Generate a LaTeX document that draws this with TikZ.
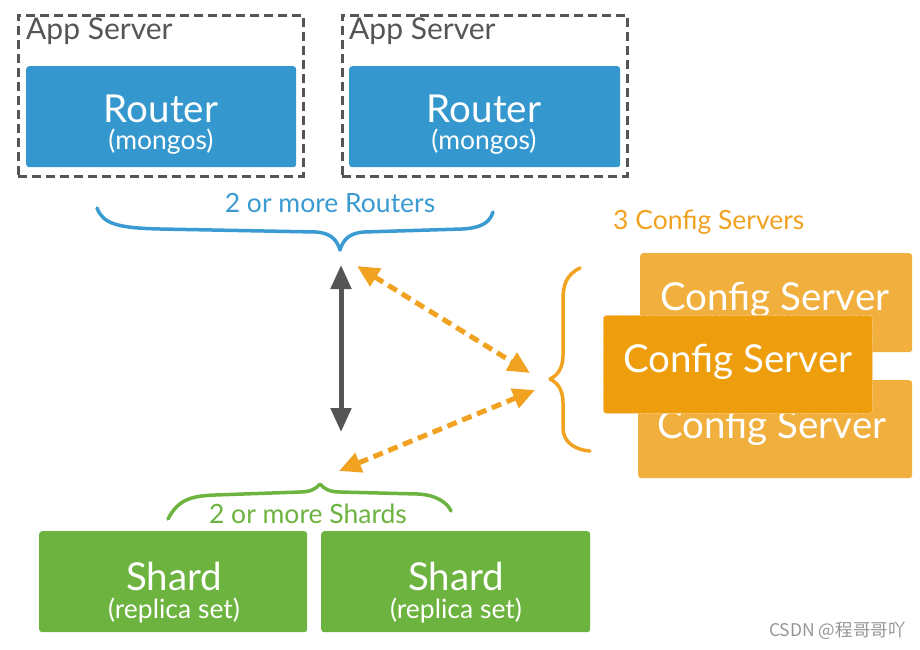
\documentclass[tikz,border=0pt]{standalone}
\usepackage{fontspec}
\setmainfont{Lato}
\newfontfamily\cjkfont{Noto Sans CJK SC}
\usetikzlibrary{arrows.meta}
\definecolor{rblue}{RGB}{52,152,206}
\definecolor{tblue}{RGB}{58,154,210}
\definecolor{cfront}{RGB}{238,158,12}
\definecolor{cback}{RGB}{241,175,62}
\definecolor{tor}{RGB}{240,162,32}
\definecolor{sgreen}{RGB}{108,179,63}
\definecolor{dgray}{RGB}{85,85,85}
\definecolor{wm}{RGB}{150,150,150}
\begin{document}
\begin{tikzpicture}[x=1pt,y=-1pt,
  box/.style={rounded corners=3pt, inner sep=0pt, anchor=north west},
  appbox/.style={draw=dgray, dash pattern=on 9pt off 5pt, line width=2.5pt, inner sep=0pt, anchor=north west, minimum width=285pt, minimum height=161pt},
  big/.style={font=\fontsize{38.5}{42}\selectfont, text=white, inner sep=0pt, anchor=base, text depth=0pt},
  small/.style={font=\fontsize{26.5}{30}\selectfont, text=white, inner sep=0pt, anchor=base, text height=13pt},
  cfg/.style={font=\fontsize{38.5}{42}\selectfont, text=white, inner sep=0pt},
  lbl/.style={font=\fontsize{26.5}{30}\selectfont, inner sep=0pt},
  dashor/.style={draw=tor, line width=5pt, dash pattern=on 10pt off 6pt, {Triangle[length=22pt,width=20pt]}-{Triangle[length=22pt,width=20pt]}},
  brace/.style={line width=3.5pt, line cap=round, line join=round},
]
\useasboundingbox (0,0) rectangle (920,649);
\fill[white] (0,0) rectangle (920,649);

% App servers
\node[appbox] (as1) at (17,14) {};
\node[appbox] (as2) at (341,14) {};
\node[font=\fontsize{30}{33}\selectfont, text=dgray, anchor=west, inner sep=0pt] (as1t) at (26,31) {App Server};
\node[font=\fontsize{30}{33}\selectfont, text=dgray, anchor=west, inner sep=0pt] (as2t) at (349,31) {App Server};

% Routers
\node[box, fill=rblue, minimum width=270pt, minimum height=101pt] (r1) at (26,66) {};
\node[box, fill=rblue, minimum width=271pt, minimum height=101pt] (r2) at (349,66) {};
\node[big] (r1a) at (161,122) {Router};
\node[small] (r1b) at (161,149) {(mongos)};
\node[big] (r2a) at (484,122) {Router};
\node[small] (r2b) at (484,149) {(mongos)};

% Routers brace
\draw[brace, draw=tblue] (97,208) .. controls (103,224) and (118,228) .. (160,229)
  -- (316,232) .. controls (331,233) and (337,240) .. (340,250)
  .. controls (343,240) and (349,233) .. (364,232)
  -- (462,229) .. controls (482,228) and (490,222) .. (493,212);
\node[lbl, text=tblue] (rl) at (330,203) {2 or more Routers};

% Config servers
\node[lbl, text=tor, anchor=west] (cl) at (613,222) {3 Config Servers};
\node[box, fill=cback, minimum width=272pt, minimum height=99pt] (c1) at (640,253) {};
\node[cfg] (c1t) at (775,300) {Config Server};
\node[box, fill=cback, minimum width=274pt, minimum height=98pt] (c3) at (638,380) {};
\node[cfg] (c3t) at (772,428) {Config Server};
\node[box, fill=cfront, minimum width=269pt, minimum height=98pt, draw=white!55!cfront, densely dotted, line width=0.8pt] (c2) at (603,315) {};
\node[cfg] (c2t) at (738,362) {Config Server};

% Config brace
\draw[brace, draw=tor] (580,268) .. controls (566,275) and (563,285) .. (563,300)
  -- (563,355) .. controls (563,370) and (556,376) .. (550,379)
  .. controls (556,382) and (563,388) .. (563,403)
  -- (563,428) .. controls (563,442) and (575,450) .. (590,451);

% Shards
\node[box, fill=sgreen, minimum width=268pt, minimum height=101pt] (s1) at (39,531) {};
\node[box, fill=sgreen, minimum width=269pt, minimum height=101pt] (s2) at (321,531) {};
\node[big] (s1a) at (174,590) {Shard};
\node[small] (s1b) at (174,618) {(replica set)};
\node[big] (s2a) at (456,590) {Shard};
\node[small] (s2b) at (456,618) {(replica set)};

% Shards brace
\draw[brace, draw=sgreen] (168,519) .. controls (178,500) and (190,496) .. (215,495)
  -- (300,492) .. controls (310,492) and (316,489) .. (320,484)
  .. controls (324,489) and (330,492) .. (340,492)
  -- (418,494) .. controls (438,495) and (448,504) .. (451,511);
\node[lbl, text=sgreen] (sl) at (308,514) {2 or more Shards};

% Arrows
\coordinate (ga) at (341,265);
\coordinate (gb) at (341,432);
\draw[draw=dgray, line width=5pt, {Triangle[length=24pt,width=20pt]}-{Triangle[length=24pt,width=20pt]}] (ga) -- (gb);

\coordinate (o1a) at (357,266);
\coordinate (o1b) at (530,373);
\draw[dashor] (o1a) -- (o1b);
\coordinate (o2a) at (535,390);
\coordinate (o2b) at (339,471);
\draw[dashor] (o2a) -- (o2b);

% watermark
\node[font=\cjkfont\fontsize{17.5}{20}\selectfont, text=wm, anchor=west, inner sep=0pt] (wmk) at (769,631) {CSDN @程哥哥吖};
\end{tikzpicture}
\end{document}
